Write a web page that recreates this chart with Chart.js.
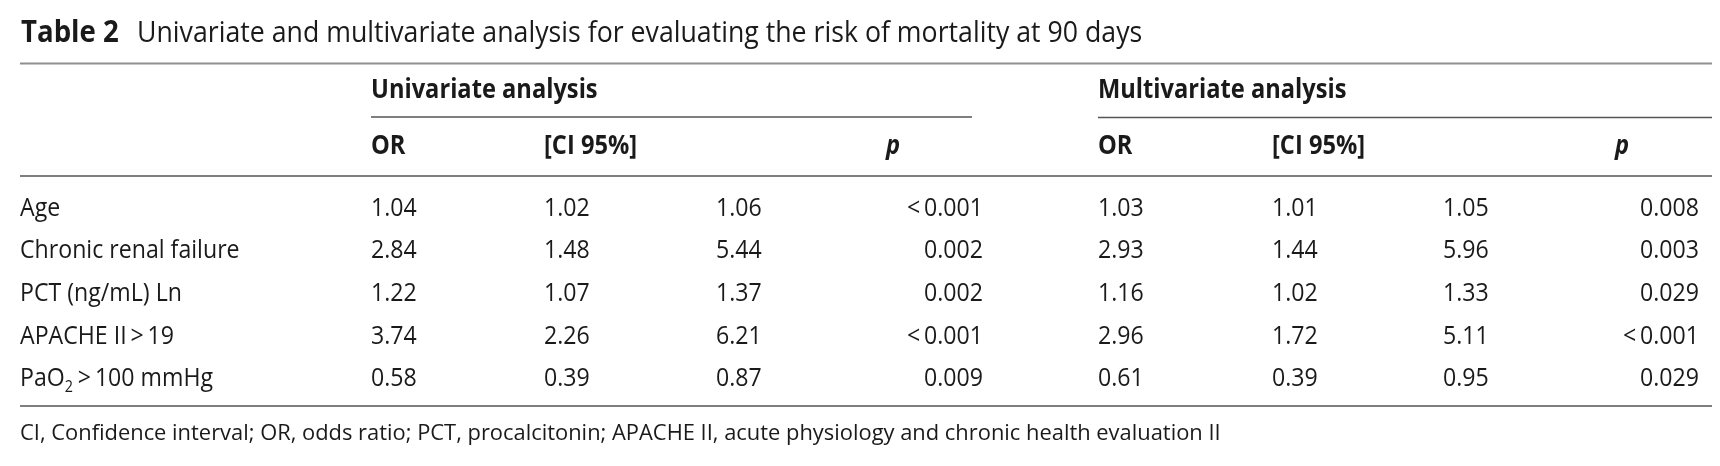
<!DOCTYPE html>
<html>
<head>
<meta charset="utf-8">
<title>Table 2</title>
<script src="https://cdn.jsdelivr.net/npm/chart.js@4/dist/chart.umd.min.js"></script>
<style>
  html, body { margin: 0; padding: 0; background: #fff; }
  #wrap { width: 1720px; height: 466px; }
</style>
</head>
<body>
<div id="wrap"><canvas id="table" width="1720" height="466"></canvas></div>
<script>
// Table content
const titleBold = "Table 2";
const titleText = "Univariate and multivariate analysis for evaluating the risk of mortality at 90 days";
const groupHeaders = ["Univariate analysis", "Multivariate analysis"];
const columnHeaders = ["OR", "[CI 95%]", "p"];
const variables = ["Age", "Chronic renal failure", "PCT (ng/mL) Ln", "APACHE II\u2009>\u200919", "PaO_2\u2009>\u2009100 mmHg"];

const uniOR   = [1.04, 2.84, 1.22, 3.74, 0.58];
const uniLow  = [1.02, 1.48, 1.07, 2.26, 0.39];
const uniHigh = [1.06, 5.44, 1.37, 6.21, 0.87];
const uniP    = ["<\u20090.001", "0.002", "0.002", "<\u20090.001", "0.009"];

const multiOR   = [1.03, 2.93, 1.16, 2.96, 0.61];
const multiLow  = [1.01, 1.44, 1.02, 1.72, 0.39];
const multiHigh = [1.05, 5.96, 1.33, 5.11, 0.95];
const multiP    = ["0.008", "0.003", "0.029", "<\u20090.001", "0.029"];

const footnote = "CI, Confidence interval; OR, odds ratio; PCT, procalcitonin; APACHE II, acute physiology and chronic health evaluation II";

// layout (in scale units, the scales span the page 1:1)
const FONT = '"Open Sans", "Noto Sans", sans-serif';
const SX = 0.89;                 // narrow the glyphs a little
const SX_BOLD = 0.91;
const TEXT = "#1a1a1a";
const ROW_BASE = 215.5, ROW_STEP = 42.7;
const rowY = i => ROW_BASE + i * ROW_STEP;

const cols = [
    { values: uniOR,     x: 371,  align: "left" },
    { values: uniLow,    x: 544,  align: "left" },
    { values: uniHigh,   x: 716,  align: "left" },
    { values: uniP,      x: 983,  align: "right" },
    { values: multiOR,   x: 1098, align: "left" },
    { values: multiLow,  x: 1272, align: "left" },
    { values: multiHigh, x: 1443, align: "left" },
    { values: multiP,    x: 1699, align: "right" }
];

// horizontal rules of the table
const rules = [
    { x0: 20,   x1: 1712, y: 63.5,  color: "#8f8f8f", w: 2 },
    { x0: 371,  x1: 972,  y: 117,   color: "#555",    w: 1.5 },
    { x0: 1098, x1: 1712, y: 117.5, color: "#555",    w: 1.5 },
    { x0: 20,   x1: 1712, y: 176,   color: "#555",    w: 1.5 },
    { x0: 20,   x1: 1712, y: 406,   color: "#555",    w: 1.5 }
];

function fmt(v) {
    return typeof v === "number" ? v.toFixed(2) : v;
}

const datasets = [];
rules.forEach(r => {
    datasets.push({
        type: "scatter",
        data: [{ x: r.x0, y: r.y }, { x: r.x1, y: r.y }],
        showLine: true,
        borderColor: r.color,
        borderWidth: r.w,
        pointRadius: 0,
        clip: false
    });
});
cols.forEach(c => {
    datasets.push({
        type: "scatter",
        data: c.values.map((v, i) => ({ x: c.x, y: rowY(i) })),
        cellText: c.values.map(fmt),
        cellAlign: c.align,
        pointRadius: 0,
        clip: false
    });
});

function drawText(ctx, str, x, y, font, align, sx) {
    ctx.save();
    ctx.font = font;
    ctx.fillStyle = TEXT;
    ctx.textBaseline = "alphabetic";
    ctx.textAlign = align;
    ctx.translate(x, y);
    ctx.scale(sx, 1);
    ctx.fillText(str, 0, 0);
    ctx.restore();
}

// left aligned text where "_x" means x is a subscript
function drawRich(ctx, str, x, y, size, sx) {
    const parts = str.split(/_(.)/);
    let cx = x;
    parts.forEach((p, k) => {
        if (!p) return;
        const sub = k % 2 === 1;
        const font = (sub ? size * 0.62 : size) + "px " + FONT;
        ctx.save();
        ctx.font = font;
        const w = ctx.measureText(p).width * sx;
        ctx.restore();
        drawText(ctx, p, cx, sub ? y + size * 0.22 : y, font, "left", sx);
        cx += w + (sub ? 1 : 0);
    });
}

const tablePlugin = {
    id: "tableText",
    afterDatasetsDraw(chart) {
        const ctx = chart.ctx;
        const xs = chart.scales.x, ys = chart.scales.y;
        const px = v => xs.getPixelForValue(v);
        const py = v => ys.getPixelForValue(v);

        // title
        drawText(ctx, titleBold, px(21), py(41.5), "bold 30px " + FONT, "left", 0.92);
        drawText(ctx, titleText, px(137), py(41.5), "30px " + FONT, "left", 0.89);

        // group headers
        drawText(ctx, groupHeaders[0], px(371), py(98), "bold 26px " + FONT, "left", SX_BOLD);
        drawText(ctx, groupHeaders[1], px(1098), py(98), "bold 26px " + FONT, "left", SX_BOLD);

        // column headers
        [[371, 544, 893], [1098, 1272, 1622]].forEach(pos => {
            drawText(ctx, columnHeaders[0], px(pos[0]), py(154), "bold 26px " + FONT, "left", SX_BOLD);
            drawText(ctx, columnHeaders[1], px(pos[1]), py(154), "bold 26px " + FONT, "left", SX_BOLD);
            drawText(ctx, columnHeaders[2], px(pos[2]), py(154), "italic bold 26px " + FONT, "center", SX_BOLD);
        });

        // row labels
        variables.forEach((v, i) => drawRich(ctx, v, px(20), py(rowY(i)), 26, SX));

        // numeric cells, placed by the chart's own points
        chart.data.datasets.forEach((ds, di) => {
            if (!ds.cellText) return;
            const meta = chart.getDatasetMeta(di);
            meta.data.forEach((pt, j) => {
                drawText(ctx, ds.cellText[j], pt.x, pt.y, "26px " + FONT, ds.cellAlign, SX);
            });
        });

        // footnote
        drawText(ctx, footnote, px(20), py(440), "22px " + FONT, "left", 0.995);
    }
};

new Chart(document.getElementById("table"), {
    type: "scatter",
    data: { datasets: datasets },
    options: {
        responsive: false,
        devicePixelRatio: 1,
        animation: false,
        layout: { padding: 0 },
        plugins: { legend: { display: false }, tooltip: { enabled: false } },
        scales: {
            x: { type: "linear", min: 0, max: 1720, display: false },
            y: { type: "linear", min: 0, max: 466, reverse: true, display: false }
        }
    },
    plugins: [tablePlugin]
});
</script>
</body>
</html>
